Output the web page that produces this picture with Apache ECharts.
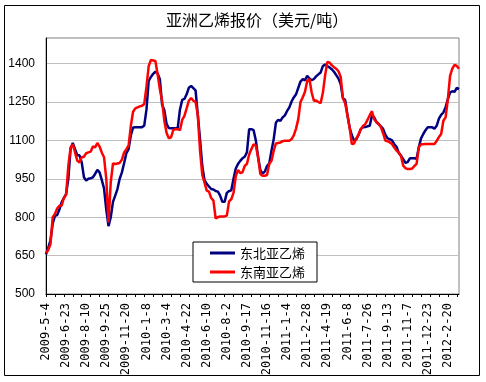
<!DOCTYPE html>
<html>
<head>
<meta charset="utf-8">
<script src="https://cdn.jsdelivr.net/npm/echarts@6/dist/echarts.min.js"></script>
<style>html,body{margin:0;padding:0;background:#fff;}#c{width:486px;height:382px;}</style>
</head>
<body>
<div id="c"></div>
<script>
var titleText = '亚洲乙烯报价（美元/吨）';
var seriesNames = ['东北亚乙烯', '东南亚乙烯'];
var tickLabels = ['2009-5-4','2009-6-23','2009-8-10','2009-9-25','2009-11-20','2010-1-8','2010-3-4','2010-4-22','2010-6-10','2010-8-2','2010-9-17','2010-11-16','2011-1-4','2011-2-28','2011-4-19','2011-6-8','2011-7-26','2011-9-13','2011-11-7','2011-12-23','2012-2-20'];
var yTicks = [500, 650, 800, 950, 1100, 1250, 1400];

var northeast = [
655,680,710,775,805,808,830,858,875,890,
950,1066,1090,1066,1042,1042,1014,956,943,950,
952,956,969,985,975,945,912,830,765,800,
860,884,910,950,975,1012,1050,1066,1120,1150,
1151,1151,1151,1151,1158,1220,1332,1348,1360,1368,
1362,1339,1240,1218,1165,1148,1147,1147,1147,1148,
1220,1258,1262,1280,1306,1313,1304,1295,1200,1104,
1000,945,930,920,910,908,902,900,884,860,
860,895,902,905,950,990,1008,1020,1030,1036,
1053,1144,1144,1140,1100,1035,985,970,978,1000,
1010,1060,1105,1170,1180,1176,1190,1198,1215,1229,
1252,1268,1280,1305,1330,1339,1335,1352,1342,1335,
1340,1350,1358,1365,1390,1397,1390,1385,1378,1368,
1355,1342,1320,1265,1258,1200,1150,1120,1099,1104,
1122,1144,1151,1152,1155,1157,1196,1190,1172,1164,
1155,1145,1122,1108,1105,1100,1085,1075,1052,1040,
1027,1012,1015,1030,1030,1030,1028,1073,1108,1125,
1140,1151,1151,1151,1146,1157,1185,1200,1209,1230,
1261,1287,1292,1290,1305,1300
];
var southeast = [
660,672,695,800,813,834,845,845,875,888,
1000,1072,1085,1053,1021,1014,1034,1036,1050,1053,
1056,1076,1073,1090,1076,1052,1034,950,780,936,
1010,1008,1010,1012,1025,1053,1066,1080,1157,1212,
1225,1229,1233,1235,1242,1310,1390,1414,1412,1410,
1358,1300,1255,1177,1130,1108,1112,1140,1144,1144,
1140,1180,1196,1225,1255,1266,1255,1250,1200,1060,
965,935,904,900,875,865,795,800,803,803,
803,806,862,870,895,960,985,972,975,1000,
1008,1045,1066,1085,1079,1035,969,962,962,965,
1008,1020,1060,1088,1090,1092,1097,1099,1099,1099,
1105,1120,1146,1183,1250,1268,1290,1332,1340,1287,
1255,1256,1250,1245,1285,1352,1406,1404,1394,1386,
1380,1370,1348,1265,1245,1200,1150,1086,1088,1108,
1122,1144,1156,1163,1180,1198,1214,1183,1172,1164,
1152,1128,1099,1097,1092,1086,1072,1060,1052,1040,
1001,992,988,988,990,1000,1008,1073,1085,1085,
1086,1086,1086,1086,1086,1098,1113,1125,1177,1190,
1260,1352,1380,1395,1391,1380
];

var pointsPerLabel = 9;
var categories = [];
for (var k = 0; k < tickLabels.length; k++) {
  for (var j = 0; j < pointsPerLabel; j++) categories.push(j === 0 ? tickLabels[k] : '');
}
categories = categories.slice(0, northeast.length);

var chart = echarts.init(document.getElementById('c'), null, {renderer: 'canvas'});
chart.setOption({
  animation: false,
  backgroundColor: '#fff',
  title: {
    text: titleText, left: 166, top: 12, padding: 0,
    textStyle: {fontFamily: 'Noto Sans CJK SC', fontSize: 16, fontWeight: 'normal', color: '#000'}
  },
  graphic: [{
    type: 'rect', silent: true, z: 100,
    shape: {x: 4.5, y: 5.5, width: 475, height: 370},
    style: {fill: 'none', stroke: '#000', lineWidth: 1}
  }],
  legend: {
    orient: 'vertical', left: 193, top: 242,
    padding: [4, 12, 3, 17], itemGap: 5, itemWidth: 25, itemHeight: 3,
    backgroundColor: '#fff', borderColor: '#000', borderWidth: 1,
    icon: 'rect',
    textStyle: {fontFamily: 'Noto Sans CJK SC', fontSize: 13, color: '#000', lineHeight: 14},
    data: seriesNames
  },
  grid: {
    left: 46, top: 38, width: 413, height: 256,
    show: true, borderColor: '#808080', borderWidth: 1, backgroundColor: '#fff'
  },
  xAxis: {
    type: 'category', data: categories, boundaryGap: false,
    axisLine: {lineStyle: {color: '#000', width: 1}},
    axisTick: {show: true, interval: 3, length: 3, lineStyle: {color: '#000'}},
    axisLabel: {interval: pointsPerLabel - 1, rotate: 90, margin: 9, color: '#000',
      fontFamily: 'DejaVu Sans Mono', fontSize: 12},
    splitLine: {show: false}
  },
  yAxis: {
    type: 'value', min: yTicks[0], max: 1500, interval: yTicks[1] - yTicks[0],
    axisLine: {show: true, lineStyle: {color: '#000', width: 1}},
    axisTick: {show: false},
    axisLabel: {margin: 11, color: '#000', fontFamily: 'Liberation Sans', fontSize: 12,
      formatter: function (v) { return yTicks.indexOf(v) >= 0 ? String(v) : ''; }},
    splitLine: {show: true, showMaxLine: false, showMinLine: false, lineStyle: {color: '#c0c0c0', width: 1}}
  },
  series: [
    {name: seriesNames[0], type: 'line', data: northeast, showSymbol: false, symbol: 'none',
      lineStyle: {color: '#000080', width: 2.5}, itemStyle: {color: '#000080'}},
    {name: seriesNames[1], type: 'line', data: southeast, showSymbol: false, symbol: 'none',
      lineStyle: {color: '#ff0000', width: 2.5}, itemStyle: {color: '#ff0000'}}
  ]
});
</script>
</body>
</html>
